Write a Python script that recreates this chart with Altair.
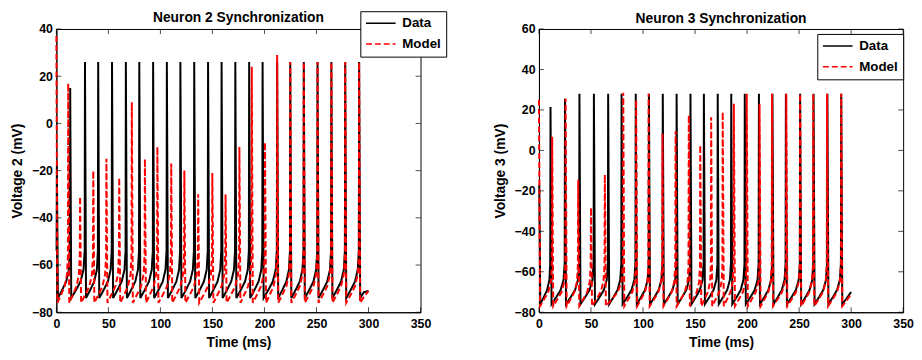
import altair as alt
import pandas as pd

FONT = "Liberation Sans"
T_END = 300.0

# ---- Neuron 2 (left panel) ----
n2_data_t = [0.5, 13.3, 27.5, 40.2, 53.5, 66.8, 79.7, 93.0, 106.2, 119.2, 132.5, 145.8,
             158.8, 172.0, 185.3, 198.2, 212.2, 224.8, 237.8, 251.0, 264.3, 277.6, 291.0]
n2_data_peak = [-18, 15, 26, 26, 26, 26, 26, 26, 26, 26, 26, 26,
                26, 26, 26, 26, 26, 26, 26, 26, 26, 26, 26]
n2_model_t = [0.0, 11.4, 22.8, 35.5, 48.1, 60.4, 72.5, 85.1, 97.1, 110.4, 123.0, 136.3,
              149.9, 162.6, 175.9, 187.8, 200.5, 212.2, 224.8, 237.8, 251.0, 264.3, 277.6, 291.0]
n2_model_peak = [37, 17, -31, -20, -15, -23, 9, -15, -10, -17, -20, -30,
                 -21, -30, -10, 24, -8, 29, 26, 26, 26, 26, 26, 26]
n2_trough = {"Data": -74, "Model": -76}
n2_end = {"Data": -71, "Model": -71}

# ---- Neuron 3 (right panel) ----
n3_data_t = [0.3, 11.1, 25.0, 38.9, 52.8, 66.5, 79.4, 93.0, 105.7, 119.0, 132.3, 145.6,
             158.5, 171.8, 184.8, 197.8, 211.4, 224.4, 237.3, 251.0, 263.9, 277.2, 290.5]
n3_data_peak = [-17, 21.5, 25.5, 28, 28, 28, 28, 28, 28, 28, 28, 28,
                28, 28, 28, 28, 28, 28, 28, 28, 28, 28, 28]
n3_model_t = [0.0, 12.7, 25.6, 37.7, 50.0, 63.3, 81.0, 93.4, 105.4, 118.7, 131.3, 144.0,
              155.0, 165.5, 176.6, 187.3, 199.7, 212.0, 224.0, 237.7, 251.0, 263.6, 276.9, 290.5]
n3_model_peak = [25, 6.7, 25.5, -14.5, -28.3, -12, 28.5, 25, 28, 8.3, 9.5, 17.5,
                 2.6, 16.4, 19, 23, 28, 23, 28, 28, 28, 28, 28, 28]
n3_trough = {"Data": -76, "Model": -77}
n3_end = {"Data": -70, "Model": -71}

# recovery shape between spikes (fraction of interval, mV above trough)
REC_FRAC = [0.4, 0.7, 0.9]
REC_RISE = [3.5, 7, 12]
UPSTROKE_RISE = 20

x_ticks = [0, 50, 100, 150, 200, 250, 300, 350]
n2_y_ticks = [-80, -60, -40, -20, 0, 20, 40]
n3_y_ticks = [-80, -60, -40, -20, 0, 20, 40, 60]

W, H = 369, 287


def trace(ts, peaks, trough, end_v, name):
    rows = []
    for i, (t, p) in enumerate(zip(ts, peaks)):
        if t - 0.3 > 0.1:
            rows.append((t - 0.3, trough + UPSTROKE_RISE))
        rows.append((t, p))
        rows.append((t + 1.0, trough))
        if i + 1 < len(ts):
            dt = ts[i + 1] - t
            for f, r in zip(REC_FRAC, REC_RISE):
                rows.append((t + f * dt, trough + r))
        else:
            dt = T_END - t
            rows.append((t + 0.5 * dt, trough + 2.5))
    rows.append((T_END, end_v))
    return pd.DataFrame({"t": [r[0] for r in rows], "v": [r[1] for r in rows], "series": name})


def panel(data_t, data_p, model_t, model_p, trough, endv, title, ylab, ydom, yticks, lx, ly, toff):
    df_d = trace(data_t, data_p, trough["Data"], endv["Data"], "Data")
    df_m = trace(model_t, model_p, trough["Model"], endv["Model"], "Model")
    X = alt.X("t:Q", scale=alt.Scale(domain=[0, 350], nice=False),
              axis=alt.Axis(title="Time (ms)", values=x_ticks))
    Y = alt.Y("v:Q", scale=alt.Scale(domain=ydom, nice=False),
              axis=alt.Axis(title=ylab, values=yticks))
    leg = alt.Legend(title=None, orient="none", legendX=lx, legendY=ly)
    color = alt.Color("series:N", scale=alt.Scale(domain=["Data", "Model"], range=["#000000", "#ff0000"]),
                      legend=leg)
    dash = alt.StrokeDash("series:N", scale=alt.Scale(domain=["Data", "Model"], range=[[1, 0], [6, 3]]),
                          legend=leg)
    l_d = alt.Chart(df_d).mark_line(strokeWidth=2).encode(x=X, y=Y, color=color, strokeDash=dash)
    l_m = alt.Chart(df_m).mark_line(strokeWidth=2).encode(x=X, y=Y, color=color, strokeDash=dash)

    xt = pd.DataFrame({"t": x_ticks})
    yt = pd.DataFrame({"v": yticks})
    tb = alt.Chart(xt).mark_tick(orient="vertical", size=5, thickness=1, color="black").encode(x=X, y=alt.value(H - 2.5))
    tt = alt.Chart(xt).mark_tick(orient="vertical", size=5, thickness=1, color="black").encode(x=X, y=alt.value(2.5))
    tl = alt.Chart(yt).mark_tick(orient="horizontal", size=5, thickness=1, color="black").encode(y=Y, x=alt.value(2.5))
    tr = alt.Chart(yt).mark_tick(orient="horizontal", size=5, thickness=1, color="black").encode(y=Y, x=alt.value(W - 2.5))

    return alt.layer(l_d, l_m, tb, tt, tl, tr).properties(
        width=W, height=H,
        title=alt.TitleParams(title, fontSize=14, fontWeight="bold", font=FONT, offset=toff, color="black"),
    )


left = panel(n2_data_t, n2_data_peak, n2_model_t, n2_model_peak, n2_trough, n2_end,
             "Neuron 2 Synchronization", "Voltage 2 (mV)", [-80, 40], n2_y_ticks, 308, -18, -14)
right = panel(n3_data_t, n3_data_peak, n3_model_t, n3_model_peak, n3_trough, n3_end,
              "Neuron 3 Synchronization", "Voltage 3 (mV)", [-80, 60], n3_y_ticks, 282, 5, -3)

chart = alt.hconcat(left, right, spacing=46).resolve_scale(
    color="independent", strokeDash="independent"
).resolve_legend(color="independent", strokeDash="independent").properties(
    padding={"left": 2, "top": 0, "right": 0, "bottom": 0}
).configure(font=FONT).configure_view(
    stroke="black", strokeWidth=1
).configure_axis(
    grid=False, ticks=False, domainColor="black", domainWidth=1,
    labelFont=FONT, labelFontSize=12.5, labelFontWeight="bold", labelColor="black",
    titleFont=FONT, titleFontSize=14, titleFontWeight="bold", titleColor="black",
    labelFlush=False, labelOverlap=False,
).configure_axisX(labelPadding=5, titlePadding=6).configure_axisY(labelPadding=4, titlePadding=7).configure_legend(
    fillColor="white", strokeColor="black", padding=5.5, cornerRadius=0,
    labelFont=FONT, labelFontSize=13.5, labelFontWeight="bold", labelColor="black",
    symbolType="M-3,0H3", symbolSize=100, symbolStrokeWidth=1.5, symbolOffset=8.5,
    labelOffset=15, rowPadding=6,
)

chart.save("out.html", embed_options={"renderer": "svg", "actions": False})
